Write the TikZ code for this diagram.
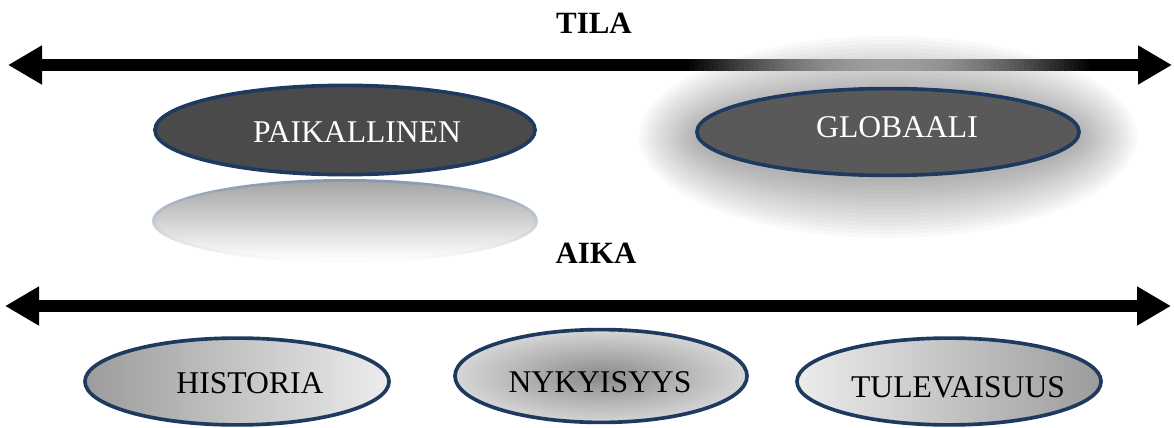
\documentclass[tikz,border=0pt]{standalone}
\usepackage{fontspec}
\setmainfont{Liberation Serif}
\usetikzlibrary{arrows.meta,shapes.geometric,positioning}
\definecolor{rim}{HTML}{1F3A5F}
\definecolor{paikfill}{HTML}{4A4A4A}
\definecolor{globfill}{HTML}{595959}
\definecolor{mirrorrim}{HTML}{8797AD}
\definecolor{mirrorfill}{HTML}{A6A6A6}
\definecolor{darkend}{HTML}{9C9C9C}
\definecolor{lightend}{HTML}{ECECEC}
\definecolor{nykyin}{HTML}{8A8A8A}
\definecolor{nykyout}{HTML}{D6D6D6}
\tikzset{
  axisarrow/.style={line width=8.5pt, {Triangle[length=0.85cm,width=0.92cm]}-{Triangle[length=0.85cm,width=0.92cm]}},
  blob/.style={ellipse, draw=rim, line width=2.6pt, inner sep=0pt},
  word/.style={font=\fontsize{22.5}{26}\selectfont, inner sep=0pt},
  head/.style={font=\fontsize{22}{26}\selectfont\bfseries, inner sep=0pt},
}
\begin{document}
\begin{tikzpicture}[x=0.025cm, y=-0.025cm]
  \useasboundingbox (0,0) rectangle (1174,427);
  \coordinate (tilaL) at (8,65);
  \coordinate (tilaR) at (1172,65);
  \coordinate (aikaL) at (5,306);
  \coordinate (aikaR) at (1171,306);
  % glow behind GLOBAALI
  \foreach \g in {0,...,14}
    \fill[black, opacity=0.023] (888,137) ellipse ({193+4*\g} and {45+4*\g});
  \draw[axisarrow] (tilaL) -- (tilaR);
  % fading part of the space axis
  \foreach \i in {0,...,81} {
    \pgfmathsetmacro{\d}{100-62*sin(180*\i/81)}
    \fill[black!\d] ({684+5*\i},59) rectangle ({689.6+5*\i},71);
  }
  \node[head] (tila) at (594,23) {TILA};
  % space
  \node[blob, fill=paikfill, minimum width=9.5cm, minimum height=2.23cm] (paik) at (345,130) {};
  \node[word, text=white] at (357,132) {PAIKALLINEN};
  \node[ellipse, minimum width=9.65cm, minimum height=2.1cm, top color=mirrorrim, bottom color=white] (mirror) at (345,221) {};
  \node[ellipse, minimum width=9.45cm, minimum height=1.95cm, top color=mirrorfill, bottom color=white] at (mirror) {};
  \node[blob, fill=globfill, minimum width=9.55cm, minimum height=2.17cm] (glob) at (888,132) {};
  \node[word, text=white] at (897,127) {GLOBAALI};
  % time
  \node[head] (aika) at (596,253) {AIKA};
  \draw[axisarrow] (aikaL) -- (aikaR);
  \node[blob, left color=darkend, right color=lightend, minimum width=7.6cm, minimum height=2.17cm] (hist) at (237,381.5) {};
  \node[word] at (250,383) {HISTORIA};
  \node[blob, inner color=nykyin, outer color=nykyout, minimum width=7.3cm, minimum height=2.32cm] (nyky) at (601,376) {};
  \node[word] at (600,382) {NYKYISYYS};
  \node[blob, left color=lightend, right color=darkend, minimum width=7.6cm, minimum height=2.17cm] (tule) at (949,381.5) {};
  \node[word] at (958,387) {TULEVAISUUS};
\end{tikzpicture}
\end{document}
